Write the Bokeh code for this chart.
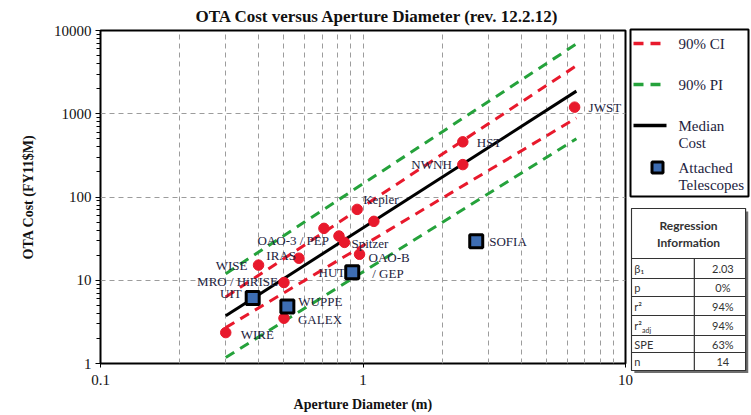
from bokeh.plotting import figure
from bokeh.models import Range1d, ColumnDataSource, CustomJSTickFormatter, Spacer, FixedTicker
from bokeh.layouts import row, column
from bokeh.core.properties import value, field
from bokeh.embed import file_html
from bokeh.resources import INLINE

# ---------------- data ----------------
title_text = "OTA Cost versus Aperture Diameter (rev. 12.2.12)"
x_label = "Aperture Diameter (m)"
y_label = "OTA Cost (FY11$M)"

x_major = [0.1, 1, 10]
x_minor = [0.2, 0.3, 0.4, 0.5, 0.6, 0.7, 0.8, 0.9, 2, 3, 4, 5, 6, 7, 8, 9]
y_major = [1, 10, 100, 1000, 10000]
y_minor = [2, 3, 4, 5, 6, 7, 8, 9, 20, 30, 40, 50, 60, 70, 80, 90,
           200, 300, 400, 500, 600, 700, 800, 900, 2000, 3000, 4000, 5000, 6000, 7000, 8000, 9000]

pt_names = ["JWST", "HST", "NWNH", "Kepler", "", "", "OAO-3 / PEP", "Spitzer",
            "OAO-B", "IRAS", "WISE", "MRO / HiRISE", "GALEX", "WIRE"]
pt_diam = [6.4, 2.4, 2.4, 0.95, 1.1, 0.71, 0.81, 0.85, 0.97, 0.57, 0.40, 0.50, 0.50, 0.30]
pt_cost = [1200, 460, 245, 71, 51, 42, 34, 28.5, 20.5, 18.4, 15.2, 9.4, 3.5, 2.35]

sq_names = ["UIT", "WUPPE", "HUT", "SOFIA"]
sq_names2 = ["", "", "/ GEP", ""]
sq_diam = [0.38, 0.515, 0.91, 2.7]
sq_cost = [6.1, 4.85, 12.5, 29.5]

fit_diam = [0.3, 6.5]
median_cost = [3.74, 1870]
ci_upper = [6.3, 3770]
ci_lower = [2.7, 890]
pi_upper = [12.0, 6900]
pi_lower = [1.18, 500]

legend_lines = [["90% CI"], ["90% PI"], ["Median", "Cost"], ["Attached", "Telescopes"]]

table_header = ["Regression", "Information"]
table_params = ["\u03b2\u2081", "p", "r\u00b2", "r\u00b2", "SPE", "n"]
table_subs = ["", "", "", "adj", "", ""]
table_values = ["2.03", "0%", "94%", "94%", "63%", "14"]

# ---------------- label layout (screen offsets) ----------------
pt_dx = [14, 14, -11, 6, 0, 0, -10, 7, 9, -3, -11, -6, 14, 15]
pt_dy = [0, 1, 0, -10, 0, 0, 4, 1, 3, -3, 0, -1, 1, 2]
pt_align = ["left", "left", "right", "left", "left", "left", "right", "left",
            "left", "right", "right", "right", "left", "left"]
sq_dx = [-11, 11, -7, 13]
sq_dy = [-5, -5, 0, 0]
sq_align = ["right", "left", "right", "left"]
sq2_dx = [0, 0, 20, 0]
sq2_dy = [0, 0, 1, 0]

RED = "#e8192c"
GREEN = "#25a23b"
BLUE = "#3d6db3"
LBL = "#1d2340"
SERIF = "Liberation Serif"
SANS = "Lato"

# ---------------- main plot ----------------
p = figure(width=633, height=414, x_axis_type="log", y_axis_type="log",
           x_range=Range1d(0.1, 10), y_range=Range1d(1, 10000),
           output_backend="svg", toolbar_location=None,
           min_border_left=100, min_border_right=8, min_border_top=29,
           min_border_bottom=50, title=title_text)

p.title.text_font = SERIF
p.title.text_font_style = "bold"
p.title.text_font_size = "17px"
p.title.align = "left"
p.title.offset = 95
p.title.standoff = 9
p.title.text_color = "#111111"

p.outline_line_color = "black"
p.outline_line_width = 2
p.outline_line_alpha = 1

p.xaxis.ticker = FixedTicker(ticks=x_major, minor_ticks=x_minor)
p.yaxis.ticker = FixedTicker(ticks=y_major, minor_ticks=y_minor)

fmt = CustomJSTickFormatter(code="return String(Number(tick.toPrecision(6)));")
for ax in (p.xaxis[0], p.yaxis[0]):
    ax.formatter = fmt
    ax.axis_line_color = None
    ax.major_tick_line_color = "black"
    ax.minor_tick_line_color = "black"
    ax.major_tick_in = 0
    ax.minor_tick_in = 0
    ax.major_label_text_font = SERIF
    ax.major_label_text_font_size = "15px"
    ax.major_label_text_color = "#111111"
    ax.axis_label_text_font = SERIF
    ax.axis_label_text_font_style = "bold"
    ax.axis_label_text_font_size = "14px"
    ax.axis_label_text_color = "#111111"

p.xaxis.axis_label = x_label
p.yaxis.axis_label = y_label
p.xaxis.major_tick_out = 4
p.xaxis.minor_tick_out = 0
p.xaxis.major_label_standoff = 7
p.xaxis.axis_label_standoff = 9
p.yaxis.major_tick_out = 5
p.yaxis.minor_tick_out = 4
p.yaxis.major_label_standoff = 4
p.yaxis.axis_label_standoff = 15

p.xgrid.grid_line_color = "#9c9c9c"
p.xgrid.grid_line_dash = "5 4"
p.xgrid.minor_grid_line_color = "#9c9c9c"
p.xgrid.minor_grid_line_dash = "5 4"
p.ygrid.grid_line_color = "#9c9c9c"
p.ygrid.grid_line_dash = "5 4"
p.ygrid.minor_grid_line_color = None

dash = "10 7"
p.line(fit_diam, pi_upper, line_color=GREEN, line_width=3, line_dash=dash)
p.line(fit_diam, pi_lower, line_color=GREEN, line_width=3, line_dash=dash)
p.line(fit_diam, ci_upper, line_color=RED, line_width=3, line_dash=dash)
p.line(fit_diam, ci_lower, line_color=RED, line_width=3, line_dash=dash)
p.line(fit_diam, median_cost, line_color="black", line_width=3)

pts = ColumnDataSource(dict(x=pt_diam, y=pt_cost, name=pt_names, dx=pt_dx, dy=pt_dy, al=pt_align))
sqs = ColumnDataSource(dict(x=sq_diam, y=sq_cost, name=sq_names, name2=sq_names2,
                            dx=sq_dx, dy=sq_dy, al=sq_align, dx2=sq2_dx, dy2=sq2_dy))

p.scatter("x", "y", source=pts, size=10.5, fill_color=RED, line_color=RED)
p.scatter("x", "y", source=sqs, marker="square", size=13, fill_color=BLUE,
          line_color="black", line_width=3)

for src, col, dxc, dyc, al in ((pts, "name", "dx", "dy", field("al")),
                               (sqs, "name", "dx", "dy", field("al")),
                               (sqs, "name2", "dx2", "dy2", "left")):
    p.text("x", "y", text=col, source=src, x_offset=dxc, y_offset=dyc,
           text_align=al, text_baseline="middle", text_font=value(SERIF),
           text_font_size="13px", text_color=LBL)

# ---------------- legend box ----------------
LW, LH = 118, 167
lf = figure(width=LW + 4, height=LH + 4, x_range=Range1d(0, LW), y_range=Range1d(LH, 0),
            x_axis_location=None, y_axis_location=None, output_backend="svg",
            toolbar_location=None, min_border_left=2, min_border_right=2,
            min_border_top=2, min_border_bottom=2)
lf.grid.visible = False
lf.outline_line_color = "black"
lf.outline_line_width = 2
lf.outline_line_alpha = 1

item_y = [14, 55, 96, 138]
line_gap = 17.5
sample_x0, sample_x1, text_x = 3, 36, 48
lf.segment(x0=[sample_x0], x1=[sample_x1], y0=[item_y[0]], y1=[item_y[0]],
           line_color=RED, line_width=3.5, line_dash="10 7")
lf.segment(x0=[sample_x0], x1=[sample_x1], y0=[item_y[1]], y1=[item_y[1]],
           line_color=GREEN, line_width=3.5, line_dash="10 7")
lf.segment(x0=[sample_x0], x1=[sample_x1], y0=[item_y[2]], y1=[item_y[2]],
           line_color="black", line_width=3.5)
lf.scatter(x=[27], y=[item_y[3]], marker="square", size=11,
           fill_color=BLUE, line_color="black", line_width=3)
tx, ty, tt = [], [], []
for yy, lines in zip(item_y, legend_lines):
    for k, s in enumerate(lines):
        tx.append(text_x)
        ty.append(yy + k * line_gap)
        tt.append(s)
lf.text(x=tx, y=ty, text=tt, text_baseline="middle", text_align="left",
        text_font=value(SERIF), text_font_size="15px", text_color=LBL)

# ---------------- regression table ----------------
TW, TH = 122, 166
tf = figure(width=TW, height=TH, x_range=Range1d(0, TW), y_range=Range1d(TH, 0),
            x_axis_location=None, y_axis_location=None, output_backend="svg",
            toolbar_location=None, min_border=0)
tf.grid.visible = False
tf.outline_line_color = None

left, right, col_x, shadow = 1, 119, 66, 3
header_h = 50
row_h = [20, 18, 19, 20, 17, 18]
bounds = [1 + header_h]
for h in row_h:
    bounds.append(bounds[-1] + h)
top, bottom = 1, bounds[-1]

tf.quad(left=[left + shadow], right=[right + shadow], top=[top + shadow], bottom=[bottom + shadow],
        fill_color="#6e6e6e", line_color=None)
tf.quad(left=[left], right=[right], top=[top], bottom=[bottom],
        fill_color="white", line_color="#333333", line_width=1.2)
tf.segment(x0=[left] * len(bounds[:-1]), x1=[right] * len(bounds[:-1]),
           y0=bounds[:-1], y1=bounds[:-1], line_color="#333333", line_width=1.2)
tf.segment(x0=[col_x], x1=[col_x], y0=[bounds[0]], y1=[bottom],
           line_color="#333333", line_width=1.2)
tf.text(x=[(left + right) / 2] * 2, y=[18, 35], text=table_header, text_align="center",
        text_baseline="middle", text_font=value(SANS), text_font_style="bold",
        text_font_size="12px", text_color="#333333")
mids = [(bounds[i] + bounds[i + 1]) / 2 for i in range(len(row_h))]
tf.text(x=[left + 3] * len(mids), y=mids, text=table_params, text_align="left",
        text_baseline="middle", text_font=value(SANS), text_font_size="11px",
        text_color="#333333")
tf.text(x=[left + 11] * len(mids), y=[m + 4 for m in mids], text=table_subs, text_align="left",
        text_baseline="middle", text_font=value(SANS), text_font_size="7px",
        text_color="#333333")
tf.text(x=[(col_x + right) / 2 + 3] * len(mids), y=mids, text=table_values, text_align="center",
        text_baseline="middle", text_font=value(SANS), text_font_size="11px",
        text_color="#333333")

side = column(Spacer(width=TW, height=27), lf, Spacer(width=TW, height=9), tf,
              margin=(0, 0, 0, -5))
layout = row(p, side)

open("out.html", "w").write(file_html(layout, INLINE))
